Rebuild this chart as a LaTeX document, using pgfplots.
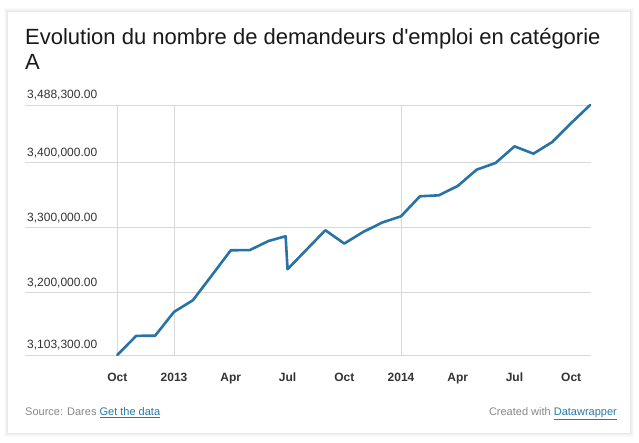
\documentclass[border=0pt]{standalone}
\usepackage{fontspec}
\setmainfont{Liberation Sans}[Ligatures=TeXOff]
\usepackage{pgfplots}
\pgfplotsset{compat=1.18}
\definecolor{linecol}{RGB}{40,114,166}
\definecolor{gridcol}{RGB}{216,216,216}
\definecolor{txt}{RGB}{51,51,51}
\definecolor{foot}{RGB}{136,136,136}
\definecolor{linkc}{RGB}{36,122,170}
\begin{document}
\begin{tikzpicture}[x=1bp,y=1bp]
\path[use as bounding box] (0,0) rectangle (639,443);
\fill[white] (0,0) rectangle (639,443);
% card shadow
\fill[black!2] (4,443-437) rectangle (634,443-8);
\fill[black!4] (5,443-436) rectangle (633,443-9);
\fill[black!6] (6,443-435) rectangle (632,443-10);
\fill[black!9] (7,443-434) rectangle (631,443-11);
\fill[white] (8,443-433) rectangle (630,443-12);
% title
\node[anchor=base west, inner sep=0, text=black!90] at (25,443-45) {\fontsize{22bp}{25bp}\selectfont Evolution du nombre de demandeurs d'emploi en catégorie};
\node[anchor=base west, inner sep=0, text=black!90] at (25,443-70) {\fontsize{22bp}{25bp}\selectfont A};
\begin{axis}[
 scale only axis, width=565.7bp, height=250bp,
 at={(25bp,88bp)}, anchor=south west,
 xmin=-4.88, xmax=25.03,
 ymin=3103300, ymax=3488300,
 scaled y ticks=false,
 clip=false,
 axis line style={draw=none},
 major tick length=0pt,
 ytick={3103300,3200000,3300000,3400000,3488300},
 yticklabels={{3,103,300.00},{3,200,000.00},{3,300,000.00},{3,400,000.00},{3,488,300.00}},
 ymajorgrids,
 grid style={gridcol, line width=0.9bp},
 xtick={0,3,...,24},
 xticklabels={Oct,2013,Apr,Jul,Oct,2014,Apr,Jul,Oct},
 extra x ticks={0,3,15},
 extra x tick labels={},
 extra x tick style={grid=major},
 yticklabel style={anchor=base west, inner sep=0pt, xshift=2bp, yshift=6bp, font=\fontsize{12bp}{14bp}\selectfont, text=txt},
 xticklabel style={anchor=base, inner sep=0pt, yshift=-27bp, font=\bfseries\fontsize{12bp}{14bp}\selectfont, text=txt},
]
\addplot[linecol, line width=2.6bp, line join=round, line cap=round] coordinates {
(0,3103300) (1,3132800) (2,3133000) (3,3169700) (4,3187700) (5,3226000)
(6,3264600) (7,3264800) (8,3278900) (8.9,3286200) (9.0,3235400) (10,3265400)
(11,3295400) (12,3274900) (13,3292800) (14,3307200) (15,3316900) (16,3347700)
(17,3349200) (18,3363600) (19,3388700) (20,3399000) (21,3424600) (22,3413300)
(23,3431300) (24,3460500) (25,3488300)
};
\end{axis}
% footer
\node[anchor=base west, inner sep=0, font=\fontsize{11bp}{13bp}\selectfont] at (25,443-416) {\textcolor{foot}{Source: Dares} \textcolor{linkc}{\underline{Get the data}}};
\node[anchor=base east, inner sep=0, font=\fontsize{11bp}{13bp}\selectfont] at (617,443-416) {\textcolor{foot}{Created with} \textcolor{linkc}{\underline{Datawrapper}}};
\end{tikzpicture}
\end{document}
